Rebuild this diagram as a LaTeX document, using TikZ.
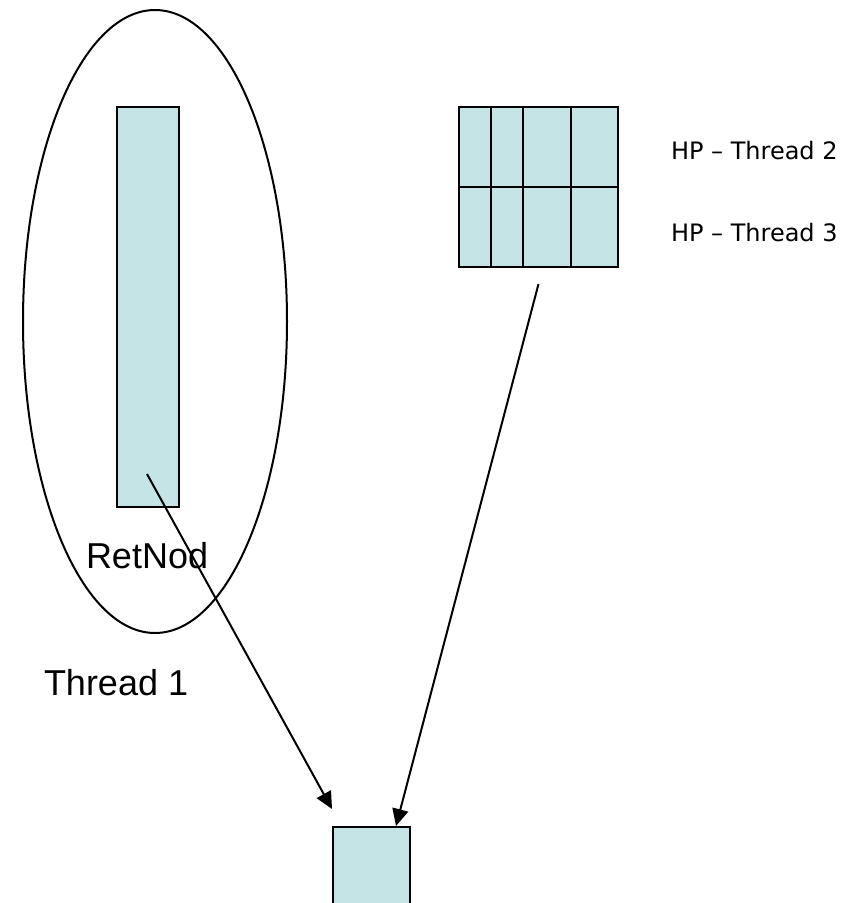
\documentclass[tikz,border=0pt]{standalone}
\usepackage{fontspec}
\setmainfont{Liberation Sans}
\newfontfamily\hpfont{DejaVu Sans}
\usetikzlibrary{shapes.geometric,arrows.meta}
\definecolor{boxfill}{RGB}{197,228,230}

\begin{document}
\begin{tikzpicture}[x=1pt, y=-1pt, line width=2pt, >={Triangle[length=17pt,width=16pt]},
    box/.style={draw, fill=boxfill, inner sep=0pt, anchor=north west},
    big/.style={anchor=base west, inner sep=0pt, font=\fontsize{36}{40}\selectfont},
    hplabel/.style={anchor=base west, inner sep=0pt, font=\hpfont\fontsize{24}{28}\selectfont}]
    \clip (0,0) rectangle (852,903);

    % Thread 1 mit RetNod
    \node[draw, ellipse, inner sep=0pt, minimum width=264pt, minimum height=623pt] (thread) at (155,321.5) {};
    \node[box, minimum width=62pt, minimum height=400pt] (retnod) at (116,106) {};
    \node[big] (retlabel) at (85,568) {RetNod};
    \node[big] (threadlabel) at (43,695) {Thread 1};

    % HP Threads 2 und 3
    \node[box, minimum width=159pt, minimum height=160pt] (hp) at (458,106) {};
    \draw (hp.west) -- (hp.east);
    \foreach \x in {491,523,571}
        \draw (\x,106) -- (\x,266);
    \node[hplabel] (hp2) at (670,159) {HP – Thread 2};
    \node[hplabel] (hp3) at (670,241) {HP – Thread 3};

    % Ziel
    \node[box, minimum width=77pt, minimum height=120pt] (target) at (332,826) {};

    \coordinate (retout) at (147,474);
    \coordinate (hpout) at ([yshift=-16pt]hp.south);
    \draw[->] (retout) -- ([yshift=17pt]target.north west);
    \draw[->] (hpout) -- ([xshift=24.5pt]target.north);
\end{tikzpicture}
\end{document}
